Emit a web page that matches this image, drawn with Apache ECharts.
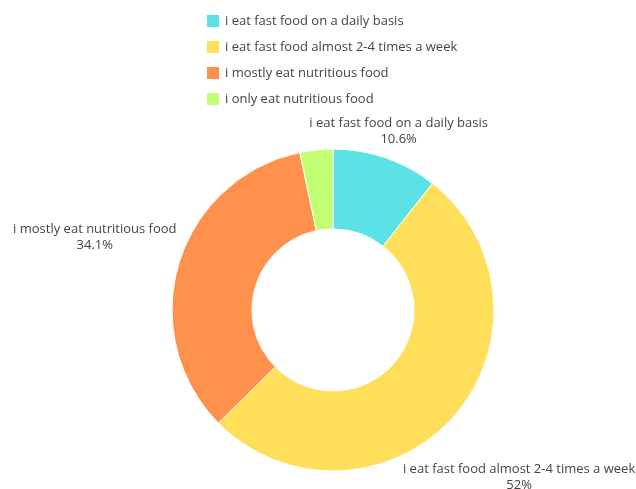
<!DOCTYPE html>
<html>
<head>
<meta charset="utf-8">
<script src="https://cdn.jsdelivr.net/npm/echarts@6/dist/echarts.min.js"></script>
<style>
  html, body { margin: 0; padding: 0; background: #ffffff; }
  #chart { width: 636px; height: 489px; }
</style>
</head>
<body>
<div id="chart"></div>
<script>
// Eating habits survey: share of answers per option
const categories = [
  'i eat fast food on a daily basis',
  'i eat fast food almost 2-4 times a week',
  'i mostly eat nutritious food',
  'i only eat nutritious food'
];
const shares = [10.6, 52, 34.1, 3.3];
const colors = ['#5ce1e6', '#ffde59', '#ff914d', '#c1ff72'];
const showLabel = [true, true, true, false];

// label placement tweaks, per slice: [dx, dy]
const labelTweaks = [
  [8, -27],
  [61, 60],
  [-79, -26],
  [0, 0]
];

const chart = echarts.init(document.getElementById('chart'), null, { renderer: 'canvas' });

const textStyle = { fontFamily: 'Open Sans, sans-serif', fontSize: 13, color: '#444' };

chart.setOption({
  backgroundColor: '#ffffff',
  animation: false,
  legend: {
    orient: 'vertical',
    left: 200,
    top: 8,
    itemWidth: 14,
    itemHeight: 14,
    itemGap: 10,
    icon: 'rect',
    data: categories,
    textStyle: textStyle
  },
  series: [{
    type: 'pie',
    center: [333, 310],
    radius: [81, 161],
    startAngle: 90,
    clockwise: true,
    avoidLabelOverlap: false,
    itemStyle: { borderColor: '#ffffff', borderWidth: 1 },
    label: {
      show: true,
      position: 'outside',
      align: 'center',
      formatter: p => p.name + '\n' + p.value + '%',
      lineHeight: 16,
      ...textStyle
    },
    labelLine: { show: false, length: 0, length2: 0 },
    labelLayout: function (params) {
      const t = labelTweaks[params.dataIndex];
      return { align: 'center', verticalAlign: 'middle', dx: t[0], dy: t[1] };
    },
    data: categories.map((name, i) => ({
      name: name,
      value: shares[i],
      itemStyle: { color: colors[i] },
      label: { show: showLabel[i] }
    }))
  }]
});
</script>
</body>
</html>
